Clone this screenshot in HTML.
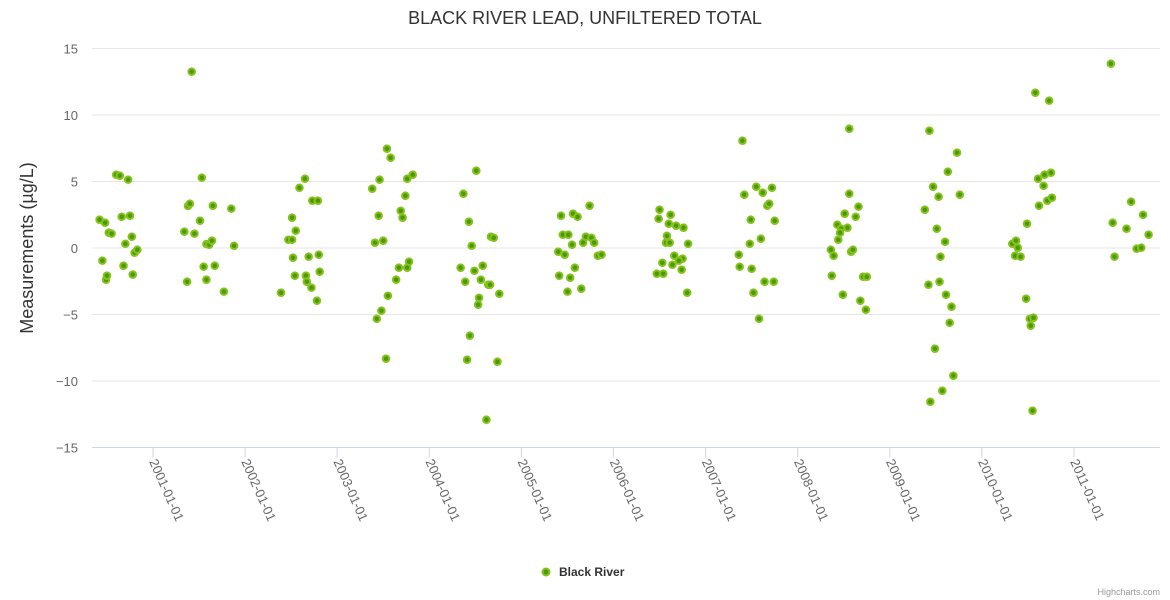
<!DOCTYPE html>
<html><head><meta charset="utf-8"><style>
body{margin:0;background:#fff;font-family:"Liberation Sans",sans-serif}
svg{display:block}
</style></head><body>
<svg id="c" width="1170" height="600" xmlns="http://www.w3.org/2000/svg">
<text x="585" y="24" text-anchor="middle" font-size="18" fill="#333">BLACK RIVER LEAD, UNFILTERED TOTAL</text>
<text transform="translate(33,248) rotate(-90)" text-anchor="middle" font-size="18" fill="#333">Measurements (µg/L)</text>
<g id="grid"></g><g id="xaxis"></g><g id="pts"></g>
<g>
<circle cx="546" cy="572" r="3.5" fill="#4c9a00" stroke="#86c21f" stroke-width="2"/>
<text x="559" y="576" font-size="12" font-weight="bold" fill="#333">Black River</text></g>
<text x="1160" y="595" text-anchor="end" font-size="9" fill="#999">Highcharts.com</text>
</svg>
<script>
const yTicks=[-15,-10,-5,0,5,10,15];
const xTickYears=[2001,2002,2003,2004,2005,2006,2007,2008,2009,2010,2011];
const dates=[2001.42,2000.60,2000.64,2000.73,2001.53,2000.42,2000.48,2000.66,2000.75,2000.52,2000.55,2000.77,2000.70,2000.80,2000.83,2000.45,2000.68,2000.49,2000.50,2000.78,
2001.38,2001.40,2001.65,2001.85,2001.51,2001.34,2001.45,2001.58,2001.61,2001.64,2001.88,2001.55,2001.67,2001.37,2001.58,2001.77,
2002.65,2002.59,2002.73,2002.79,2002.51,2002.55,2002.47,2002.51,2002.52,2002.69,2002.80,2002.54,2002.66,2002.67,2002.81,2002.72,2002.39,2002.78,
2003.54,2003.58,2003.38,2003.46,2003.76,2003.82,2003.74,2003.69,2003.71,2003.45,2003.41,2003.50,2003.78,2003.76,2003.67,2003.64,2003.55,2003.48,2003.43,2003.53,
2004.51,2004.37,2004.43,2004.46,2004.67,2004.70,2004.34,2004.49,2004.58,2004.39,2004.56,2004.64,2004.66,2004.76,2004.54,2004.53,2004.44,2004.41,2004.74,2004.62,
2005.74,2005.43,2005.56,2005.61,2005.45,2005.51,2005.70,2005.76,2005.55,2005.67,2005.79,2005.40,2005.47,2005.83,2005.87,2005.58,2005.41,2005.53,2005.50,2005.65,
2006.50,2006.49,2006.62,2006.60,2006.68,2006.76,2006.58,2006.57,2006.61,2006.81,2006.66,2006.75,2006.71,2006.53,2006.64,2006.74,2006.47,2006.54,2006.80,
2007.40,2007.55,2007.42,2007.62,2007.72,2007.67,2007.69,2007.49,2007.75,2007.60,2007.48,2007.36,2007.37,2007.50,2007.64,2007.74,2007.52,2007.58,
2008.56,2008.56,2008.66,2008.51,2008.63,2008.43,2008.54,2008.47,2008.46,2008.44,2008.36,2008.39,2008.58,2008.60,2008.37,2008.71,2008.75,2008.49,2008.68,2008.74,
2009.43,2009.73,2009.63,2009.47,2009.53,2009.76,2009.38,2009.51,2009.60,2009.55,2009.42,2009.54,2009.61,2009.67,2009.65,2009.49,2009.69,2009.57,2009.44,
2010.58,2010.73,2010.61,2010.68,2010.75,2010.67,2010.62,2010.71,2010.76,2010.49,2010.33,2010.37,2010.39,2010.36,2010.42,2010.48,2010.52,2010.56,2010.53,2010.55,
2011.40,2011.62,2011.75,2011.42,2011.57,2011.81,2011.68,2011.73,2011.44];
const values=[13.26,5.51,5.44,5.14,5.29,2.13,1.90,2.35,2.43,1.15,1.08,0.85,0.32,-0.35,-0.13,-0.95,-1.33,-2.38,-2.08,-2.0,
3.16,3.33,3.18,2.96,2.05,1.23,1.08,0.30,0.25,0.55,0.17,-1.40,-1.33,-2.53,-2.38,-3.28,
5.21,4.53,3.56,3.56,2.28,1.30,0.62,0.62,-0.73,-0.65,-0.50,-2.08,-2.08,-2.53,-1.78,-2.98,-3.36,-3.96,
7.47,6.79,4.46,5.14,5.21,5.51,3.93,2.80,2.28,2.43,0.40,0.55,-1.03,-1.48,-1.48,-2.38,-3.59,-4.71,-5.32,-8.32,
5.81,4.08,1.98,0.17,0.85,0.77,-1.48,-1.71,-1.33,-2.53,-2.38,-2.76,-2.76,-3.44,-3.74,-4.26,-6.59,-8.40,-8.55,-12.91,
3.18,2.43,2.58,2.35,1.0,1.0,0.85,0.77,0.25,0.40,0.40,-0.28,-0.50,-0.58,-0.50,-1.48,-2.08,-2.23,-3.28,-3.06,
2.88,2.20,2.50,1.83,1.68,1.53,0.92,0.40,0.40,0.32,-0.58,-0.80,-0.95,-1.11,-1.26,-1.63,-1.93,-1.93,-3.36,
8.07,4.61,4.01,4.16,4.53,3.18,3.33,2.13,2.05,0.70,0.32,-0.50,-1.41,-1.56,-2.53,-2.53,-3.36,-5.32,
8.97,4.08,3.11,2.58,2.35,1.75,1.53,1.45,1.15,0.62,-0.13,-0.58,-0.28,-0.13,-2.08,-2.16,-2.16,-3.51,-3.96,-4.64,
8.82,7.17,5.74,4.61,3.86,4.01,2.88,1.45,0.47,-0.65,-2.76,-2.53,-3.51,-4.41,-5.62,-7.57,-9.60,-10.73,-11.56,
11.68,11.08,5.21,5.51,5.66,4.68,3.18,3.56,3.78,1.83,0.32,0.55,0.02,-0.58,-0.65,-3.81,-5.32,-5.24,-5.84,-12.23,
13.86,3.48,2.50,1.90,1.45,1.0,-0.05,0.02,-0.65];
const NS='http://www.w3.org/2000/svg';
const X0=92,X1=1160;
function xs(yr){return 153+(yr-2001)*92.1;}
function ys(v){return 248-v*13.3;}
function mk(t,a,p){const e=document.createElementNS(NS,t);for(const k in a)e.setAttribute(k,a[k]);p.appendChild(e);return e;}
const grid=document.getElementById('grid');
yTicks.forEach(t=>{
  const l=mk('line',{x1:X0,x2:X1,y1:ys(t),y2:ys(t),stroke:t===-15?'#ccd6eb':'#e6e6e6','stroke-width':1},grid);
  
  
  const tx=mk('text',{x:78,y:ys(t)+5,'text-anchor':'end','font-size':13,fill:'#666'},grid);
  tx.textContent=(t<0?'\u2212'+(-t):t);
  
  
});
const xa=document.getElementById('xaxis');
xTickYears.forEach(yr=>{
  const x=xs(yr);
  const l=mk('line',{x1:x,x2:x,y1:ys(-15),y2:ys(-15)+10,stroke:'#ccd6eb'},xa);
  
  
  const tx=mk('text',{transform:`translate(${x-4},${ys(-15)+14}) rotate(66)`,'font-size':13,fill:'#666'},xa);
  tx.textContent=yr+'-01-01';
  
  
});
const pts=document.getElementById('pts');
dates.forEach((d,i)=>{
  const c=mk('circle',{cx:xs(d),cy:ys(values[i]),r:3.3,fill:'#4c9a00',stroke:'#86c21f','stroke-width':2},pts);
  
  
});
</script>
</body></html>
